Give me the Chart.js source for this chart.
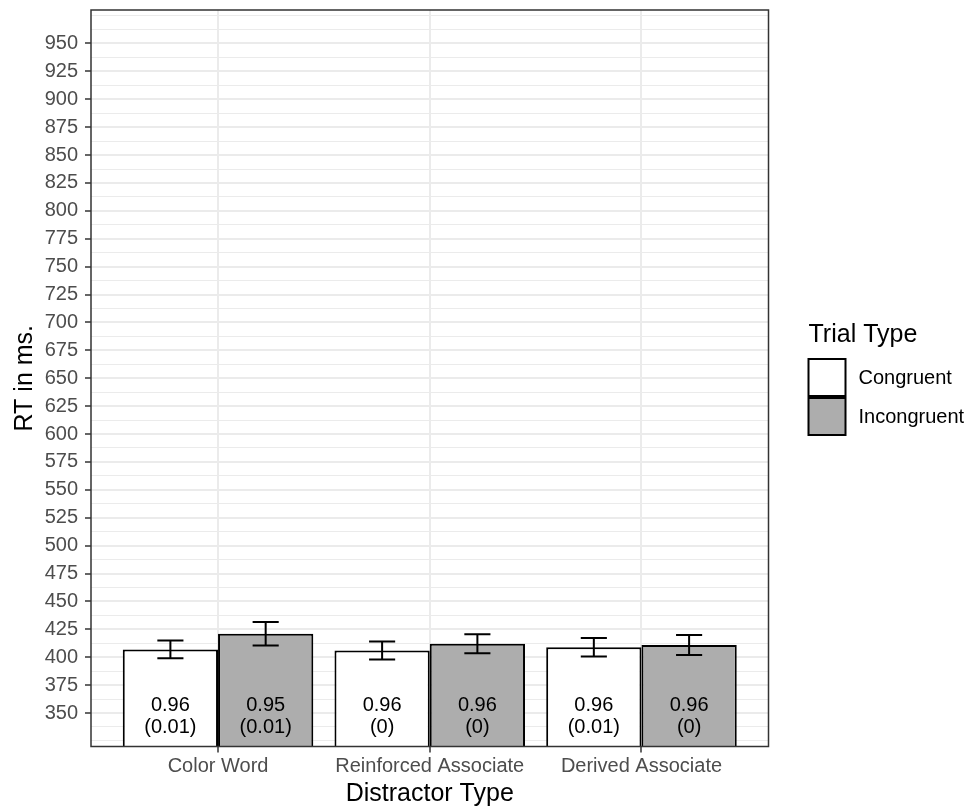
<!DOCTYPE html>
<html>
<head>
<meta charset="utf-8">
<title>RT by Distractor Type</title>
<script src="https://cdn.jsdelivr.net/npm/chart.js@4.4.1/dist/chart.umd.min.js"></script>
<style>
  html, body { margin: 0; padding: 0; background: #fff; }
  #wrap { width: 966px; height: 810px; }
</style>
</head>
<body>
<div id="wrap"><canvas id="rtChart" width="966" height="810"></canvas></div>
<script>
// Data
const categories = ['Color Word', 'Reinforced Associate', 'Derived Associate'];
const trialTypes = ['Congruent', 'Incongruent'];
const congruentRT = [407, 406, 409];
const incongruentRT = [421, 412, 411];
const congruentSE = [8, 8, 8.3];
const incongruentSE = [10.5, 8.5, 9];
const congruentAcc = ['0.96', '0.96', '0.96'];
const congruentAccSD = ['(0.01)', '(0)', '(0.01)'];
const incongruentAcc = ['0.95', '0.96', '0.96'];
const incongruentAccSD = ['(0.01)', '(0)', '(0)'];
const yTickValues = [350, 375, 400, 425, 450, 475, 500, 525, 550, 575, 600, 625, 650,
  675, 700, 725, 750, 775, 800, 825, 850, 875, 900, 925, 950];

const FONT = "'Liberation Sans', Arial, Helvetica, sans-serif";
const fills = ['#FFFFFF', '#ADADAD'];
const TEXT_Y = 350; // accuracy labels sit centred on this value

// minor grid lines halfway between majors (ggplot style), incl. one step outside
const majorStep = yTickValues[1] - yTickValues[0];
const gridValues = [];
for (let v = yTickValues[0] - majorStep; v <= yTickValues[yTickValues.length - 1] + majorStep; v += majorStep / 2) {
  if (v >= 320 && v <= 980) gridValues.push(v);
}
const isMajor = v => yTickValues.includes(v);

// Error bars, accuracy labels and panel border
const errorBarPlugin = {
  id: 'errorBars',
  afterDatasetsDraw(chart) {
    const ctx = chart.ctx;
    const y = chart.scales.y;
    ctx.save();
    ctx.strokeStyle = '#000';
    ctx.lineWidth = 2;
    chart.data.datasets.forEach((ds, di) => {
      const meta = chart.getDatasetMeta(di);
      meta.data.forEach((bar, i) => {
        const v = ds.data[i].y;
        const top = y.getPixelForValue(v + ds.se[i]);
        const bot = y.getPixelForValue(v - ds.se[i]);
        const hw = bar.width * 0.137;
        ctx.beginPath();
        ctx.moveTo(bar.x, top); ctx.lineTo(bar.x, bot);
        ctx.moveTo(bar.x - hw, top); ctx.lineTo(bar.x + hw, top);
        ctx.moveTo(bar.x - hw, bot); ctx.lineTo(bar.x + hw, bot);
        ctx.stroke();
      });
    });
    // accuracy labels inside bars
    ctx.fillStyle = '#000';
    ctx.font = '20px ' + FONT;
    ctx.textAlign = 'center';
    ctx.textBaseline = 'middle';
    const cy = y.getPixelForValue(TEXT_Y);
    chart.data.datasets.forEach((ds, di) => {
      chart.getDatasetMeta(di).data.forEach((bar, i) => {
        ctx.fillText(ds.acc[i], bar.x, cy - 8);
        ctx.fillText(ds.accSD[i], bar.x, cy + 14);
      });
    });
    // panel border
    const a = chart.chartArea;
    ctx.strokeStyle = '#333333';
    ctx.lineWidth = 1.5;
    ctx.strokeRect(a.left, a.top, a.right - a.left, a.bottom - a.top);
    ctx.restore();
  }
};

// Legend on the right, ggplot look
const sideLegendPlugin = {
  id: 'sideLegend',
  afterDraw(chart) {
    const ctx = chart.ctx;
    const x0 = chart.chartArea.right + 40;
    ctx.save();
    ctx.fillStyle = '#000';
    ctx.textAlign = 'left';
    ctx.textBaseline = 'middle';
    ctx.font = '25px ' + FONT;
    ctx.fillText('Trial Type', x0, 335);
    ctx.font = '20px ' + FONT;
    trialTypes.forEach((t, i) => {
      const ky = 359 + i * 39;
      ctx.fillStyle = fills[i];
      ctx.fillRect(x0, ky, 37, 37);
      ctx.strokeStyle = '#000';
      ctx.lineWidth = 2;
      ctx.strokeRect(x0, ky, 37, 37);
      ctx.fillStyle = '#000';
      ctx.fillText(t, x0 + 50, ky + 19);
    });
    ctx.restore();
  }
};

function makeDataset(i, values, se, acc, accSD) {
  return {
    label: trialTypes[i],
    data: values.map((v, k) => ({ x: k + 1, y: v })),
    se: se,
    acc: acc,
    accSD: accSD,
    backgroundColor: fills[i],
    borderColor: '#000',
    borderWidth: 2,
    categoryPercentage: 0.9,
    barPercentage: 1.0
  };
}

const chart = new Chart(document.getElementById('rtChart'), {
  type: 'bar',
  data: {
    datasets: [
      makeDataset(0, congruentRT, congruentSE, congruentAcc, congruentAccSD),
      makeDataset(1, incongruentRT, incongruentSE, incongruentAcc, incongruentAccSD)
    ]
  },
  options: {
    responsive: false,
    animation: false,
    devicePixelRatio: 1,
    layout: { padding: { top: 10, right: 197.5, bottom: 0, left: 0 } },
    plugins: { legend: { display: false }, tooltip: { enabled: false } },
    scales: {
      x: {
        type: 'linear',
        min: 0.4,
        max: 3.6,
        offset: false,
        afterBuildTicks: s => { s.ticks = categories.map((c, i) => ({ value: i + 1 })); },
        afterFit: s => { s.height = 63.5; s.paddingLeft = 0; s.paddingRight = 0; },
        ticks: {
          callback: v => categories[Math.round(v) - 1],
          autoSkip: false,
          maxRotation: 0,
          color: '#4D4D4D',
          font: { family: FONT, size: 20 },
          padding: 2
        },
        grid: { offset: false, color: '#EBEBEB', lineWidth: 2, tickLength: 6, tickColor: '#333333', tickWidth: 1.5 },
        border: { display: false },
        title: {
          display: true,
          text: 'Distractor Type',
          color: '#000',
          font: { family: FONT, size: 25 },
          padding: { top: 0, bottom: 1 }
        }
      },
      y: {
        type: 'linear',
        min: 320,
        max: 980,
        afterBuildTicks: s => { s.ticks = gridValues.map(v => ({ value: v })); },
        afterFit: s => { s.width = 91; s.paddingTop = 0; s.paddingBottom = 0; },
        ticks: {
          callback: v => isMajor(v) ? String(v) : '',
          autoSkip: false,
          color: '#4D4D4D',
          font: { family: FONT, size: 20 },
          padding: 7
        },
        grid: {
          color: '#EBEBEB',
          lineWidth: c => (c.tick && isMajor(c.tick.value)) ? 2 : 1,
          tickLength: 6,
          tickColor: c => (c.tick && isMajor(c.tick.value)) ? '#333333' : 'rgba(0,0,0,0)',
          tickWidth: 1.5
        },
        border: { display: false },
        title: {
          display: true,
          text: 'RT in ms.',
          color: '#000',
          font: { family: FONT, size: 25 },
          padding: { top: 10, bottom: 0 }
        }
      }
    }
  },
  plugins: [errorBarPlugin, sideLegendPlugin]
});
</script>
</body>
</html>
